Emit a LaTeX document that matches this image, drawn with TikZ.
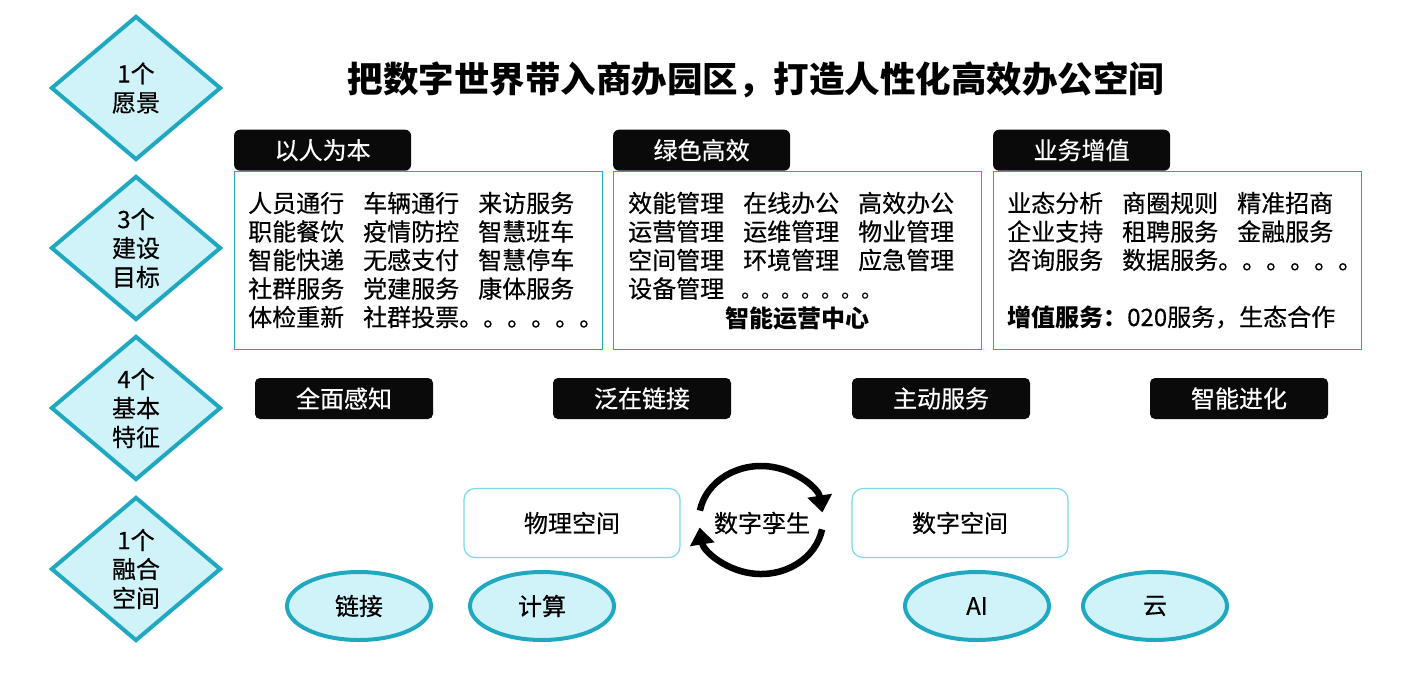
\documentclass[tikz,border=0pt]{standalone}
\usepackage{fontspec}
\setmainfont{Noto Sans CJK SC}[UprightFeatures={FakeBold=0.5}]
\usetikzlibrary{positioning, shapes.geometric, arrows.meta}
\definecolor{edgeT}{HTML}{1FA8C0}
\definecolor{fillC}{HTML}{D0F3F9}
\definecolor{edgeL}{HTML}{7ED7EB}
\colorlet{tabK}{black!96}
\newcommand{\gap}{\hspace{19pt}}
\tikzset{
  body/.style     ={font=\fontsize{24}{29}\selectfont, text=black},
  goal/.style     ={diamond, draw=edgeT, fill=fillC, line width=4pt,
                    minimum width=170pt, minimum height=144pt, inner sep=0pt,
                    align=center, body},
  tabhead/.style  ={fill=tabK, rounded corners=6pt, minimum width=177pt,
                    minimum height=41pt, inner sep=0pt, body, text=white},
  feature/.style  ={tabhead, minimum width=178pt, rounded corners=5pt},
  panel/.style    ={draw=edgeT, line width=1.2pt, minimum width=368pt,
                    minimum height=178pt, inner sep=0pt},
  item/.style     ={body, anchor=west, inner sep=0pt},
  spacebox/.style ={draw=edgeL, line width=1.2pt, rounded corners=11pt,
                    minimum width=216pt, minimum height=69pt, body},
  tech/.style     ={ellipse, draw=edgeT, fill=fillC, line width=4pt,
                    minimum width=144pt, minimum height=68pt, body},
  twinarrow/.style={line width=6.5pt, -{Triangle[width=24pt, length=17pt]}},
}

\begin{document}
\begin{tikzpicture}[x=1pt, y=-1pt]
\path[fill=white] (0,0) rectangle (1404,685);
\useasboundingbox (0,0) rectangle (1404,685);

% Left column: the four levels
\node[goal] (G1) at (136, 88)  {1个\\愿景};
\node[goal] (G2) at (136, 248) {3个\\建设\\目标};
\node[goal] (G3) at (136, 408) {4个\\基本\\特征};
\node[goal] (G4) at (136, 569) {1个\\融合\\空间};

% Vision line
\node[font=\fontsize{35.5}{40}\selectfont\bfseries] (title) at (756, 80)
  {把数字世界带入商办园区，打造人性化高效办公空间};

% Three goal panels, tab sitting on top of each
\node[panel] (P1) at (418.5, 260.5) {};
\node[panel] (P2) at (797.5, 260.5) {};
\node[panel] (P3) at (1177.5, 260.5) {};
\node[tabhead, anchor=south west] (T1) at (P1.north west) {以人为本};
\node[tabhead, anchor=south west] (T2) at (P2.north west) {绿色高效};
\node[tabhead, anchor=south west] (T3) at (P3.north west) {业务增值};

\foreach \r/\txt in {0/{人员通行\gap 车辆通行\gap 来访服务},
                     1/{职能餐饮\gap 疫情防控\gap 智慧班车},
                     2/{智能快递\gap 无感支付\gap 智慧停车},
                     3/{社群服务\gap 党建服务\gap 康体服务},
                     4/{体检重新\gap 社群投票。。。。。。}}
  \node[item] (A\r) at (248, {203+28.5*\r}) {\txt};

\foreach \r/\txt in {0/{效能管理\gap 在线办公\gap 高效办公},
                     1/{运营管理\gap 运维管理\gap 物业管理},
                     2/{空间管理\gap 环境管理\gap 应急管理},
                     3/{设备管理}}
  \node[item] (B\r) at (628, {203+28.5*\r}) {\txt};
\node[item, font=\fontsize{20}{24}\selectfont, anchor=base west] (Bdots)
  at (741, 297.5) {。。。。。。。};
\node[body, inner sep=0pt] (ops) at (797, 318) {\bfseries 智能运营中心};

\foreach \r/\txt in {0/{业态分析\gap 商圈规则\gap 精准招商},
                     1/{企业支持\gap 租聘服务\gap 金融服务},
                     2/{咨询服务\gap 数据服务。。。。。。}}
  \node[item] (C\r) at (1007, {203+28.5*\r}) {\txt};
\node[item] (C4) at (1007, 317) {{\bfseries 增值服务：}020服务，生态合作};

% Four basic features
\foreach \i/\x/\txt in {1/344/全面感知, 2/642/泛在链接, 3/941/主动服务, 4/1239/智能进化}
  \node[feature] (F\i) at (\x, 398.5) {\txt};

% Fused space: physical <-> digital
\node[spacebox] (phys) at (572, 523) {物理空间};
\node[spacebox] (digi) at (960, 523) {数字空间};
\node[body] (twin) at (762, 523) {数字孪生};
\coordinate (hub) at (761, 520);
\draw[twinarrow] ([shift={(190:62 and 54)}]hub)
  arc[start angle=190, end angle=352, x radius=62, y radius=54];
\draw[twinarrow] ([shift={(10:62 and 54)}]hub)
  arc[start angle=10, end angle=172, x radius=62, y radius=54];

\foreach \i/\x/\txt in {1/359/链接, 2/542/计算, 3/977/AI, 4/1155/云}
  \node[tech] (E\i) at (\x, 606) {\txt};

\end{tikzpicture}
\end{document}
